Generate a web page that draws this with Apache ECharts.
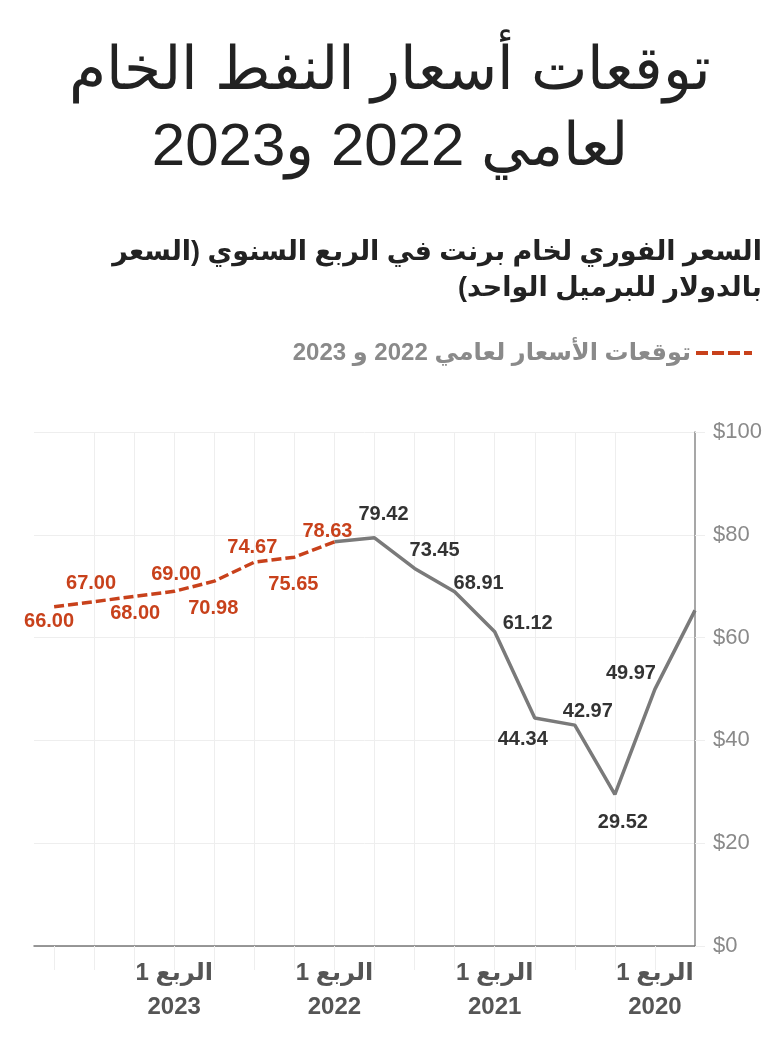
<!DOCTYPE html>
<html>
<head>
<meta charset="utf-8">
<script src="https://cdn.jsdelivr.net/npm/echarts@6/dist/echarts.min.js"></script>
<style>
html,body{margin:0;padding:0;background:#fff;}
#chart{width:780px;height:1040px;}
</style>
</head>
<body>
<div id="chart"></div>
<script>
// Quarters, index 0 = 2019 Q4 (right edge), running leftwards in time
const quarters = ['2019 Q4','2020 Q1','2020 Q2','2020 Q3','2020 Q4','2021 Q1','2021 Q2','2021 Q3','2021 Q4',
                  '2022 Q1','2022 Q2','2022 Q3','2022 Q4','2023 Q1','2023 Q2','2023 Q3','2023 Q4'];
// Actual Brent spot price (USD/barrel)
const actual = [65.3, 49.97, 29.52, 42.97, 44.34, 61.12, 68.91, 73.45, 79.42, 78.63,
                null, null, null, null, null, null, null];
// Forecast 2022 and 2023
const forecast = [null, null, null, null, null, null, null, null, null, 78.63,
                  75.65, 74.67, 70.98, 69.00, 68.00, 67.00, 66.00];
// Which actual points carry a value label
const actualLabelled = [false, true, true, true, true, true, true, true, true, false,
                        false, false, false, false, false, false, false];
// Tick labels (first quarter of each year)
const tickIndex = [1, 5, 9, 13];
const tickLabels = ['الربع 1\n2020', 'الربع 1\n2021', 'الربع 1\n2022', 'الربع 1\n2023'];

const RLM = '\u200F';
const titleLines = ['توقعات أسعار النفط الخام', 'لعامي 2022 و2023'];
const subtitleLines = ['السعر الفوري لخام برنت في الربع السنوي (السعر', 'بالدولار للبرميل الواحد)'];
const legendText = 'توقعات الأسعار لعامي 2022 و 2023';

const rtl = lines => lines.map(s => RLM + s + RLM).join('\n');

// label layout (centre offsets in px), kept apart from the data
const actualLabelOffset = {1:[-24,-16],2:[8,28],3:[13,-14],4:[-12,21],5:[33,-8],6:[24,-8],7:[20,-18],8:[9,-23]};
const forecastLabelOffset = {9:[-7,-10],10:[-1,27],11:[-2,-15],12:[-1,27],13:[2,-17],14:[1,17],15:[-3,-18],16:[-5,15]};

const RED = '#c8411b';
const GRAY = '#7a7a7a';
const NUMFONT = '"Liberation Sans", Arial, "DejaVu Sans", sans-serif';

function labelCfg(color, off) {
  return {show: true, position: 'inside', offset: off, color: color,
          fontFamily: NUMFONT, fontWeight: 'bold', fontSize: 20,
          formatter: p => p.value[1].toFixed(2)};
}

const actualData = [];
actual.forEach((v, i) => {
  if (v === null) return;
  const item = {value: [i, v]};
  if (actualLabelled[i]) item.label = labelCfg('#333', actualLabelOffset[i]);
  else item.label = {show: false};
  actualData.push(item);
});
const forecastData = [];
forecast.forEach((v, i) => {
  if (v === null) return;
  forecastData.push({value: [i, v], label: labelCfg(RED, forecastLabelOffset[i])});
});

const chart = echarts.init(document.getElementById('chart'), null, {renderer: 'canvas'});
chart.setOption({
  animation: false,
  backgroundColor: '#fff',
  title: [{
    text: rtl(titleLines),
    left: 390, top: 34, padding: 0,
    textAlign: 'center',
    textStyle: {fontFamily: NUMFONT, fontWeight: 300, fontSize: 60, lineHeight: 76, color: '#222'}
  }, {
    text: rtl(subtitleLines),
    left: 762, top: 235, padding: 0,
    textAlign: 'right',
    textStyle: {fontFamily: NUMFONT, fontWeight: 'bold', fontSize: 27, lineHeight: 36, color: '#222'}
  }],
  legend: {
    right: 26, top: 341, padding: 0,
    align: 'right',
    itemWidth: 56, itemHeight: 14,
    data: [{name: legendText}],
    formatter: n => RLM + n + RLM,
    lineStyle: {width: 4, type: [12, 4], color: RED},
    itemStyle: {opacity: 0},
    textStyle: {fontFamily: NUMFONT, fontWeight: 'bold', fontSize: 24, color: '#8a8a8a'},
    selectedMode: false
  },
  grid: {left: 34, right: 85, top: 432, bottom: 94, containLabel: false},
  xAxis: {
    type: 'value', inverse: true, min: 0, max: 16.5, interval: 1,
    axisLine: {show: true, onZero: false, lineStyle: {color: '#777', width: 1.5}},
    axisTick: {show: true, length: 24, customValues: [1,2,3,4,5,6,7,8,9,10,11,12,13,14,15,16],
               lineStyle: {color: '#eeeeee', width: 1}},
    splitLine: {show: true, showMaxLine: false, showMinLine: false, lineStyle: {color: '#eeeeee', width: 1}},
    axisLabel: {
      customValues: tickIndex,
      margin: 10,
      formatter: v => tickLabels[tickIndex.indexOf(v)] || '',
      fontFamily: NUMFONT, fontWeight: 'bold', fontSize: 24, lineHeight: 34, color: '#555', align: 'center'
    }
  },
  yAxis: {
    type: 'value', position: 'right', min: 0, max: 100, interval: 20,
    axisLine: {show: true, lineStyle: {color: '#8a8a8a', width: 1.5}},
    axisTick: {show: true, length: 10, lineStyle: {color: '#eeeeee'}},
    splitLine: {show: true, lineStyle: {color: '#eeeeee', width: 1}},
    axisLabel: {formatter: v => '$' + v, margin: 18, fontFamily: NUMFONT, fontSize: 22, color: '#8a8a8a', align: 'left'}
  },
  series: [{
    name: 'actual', type: 'line',
    data: actualData,
    symbol: 'circle', symbolSize: 1, showSymbol: true,
    itemStyle: {color: 'rgba(0,0,0,0)'},
    lineStyle: {color: GRAY, width: 3.5},
    z: 3
  }, {
    name: legendText, type: 'line',
    data: forecastData,
    symbol: 'circle', symbolSize: 1, showSymbol: true,
    itemStyle: {color: 'rgba(0,0,0,0)'},
    lineStyle: {color: RED, width: 3.5, type: [10, 4]},
    z: 4
  }]
});
</script>
</body>
</html>
